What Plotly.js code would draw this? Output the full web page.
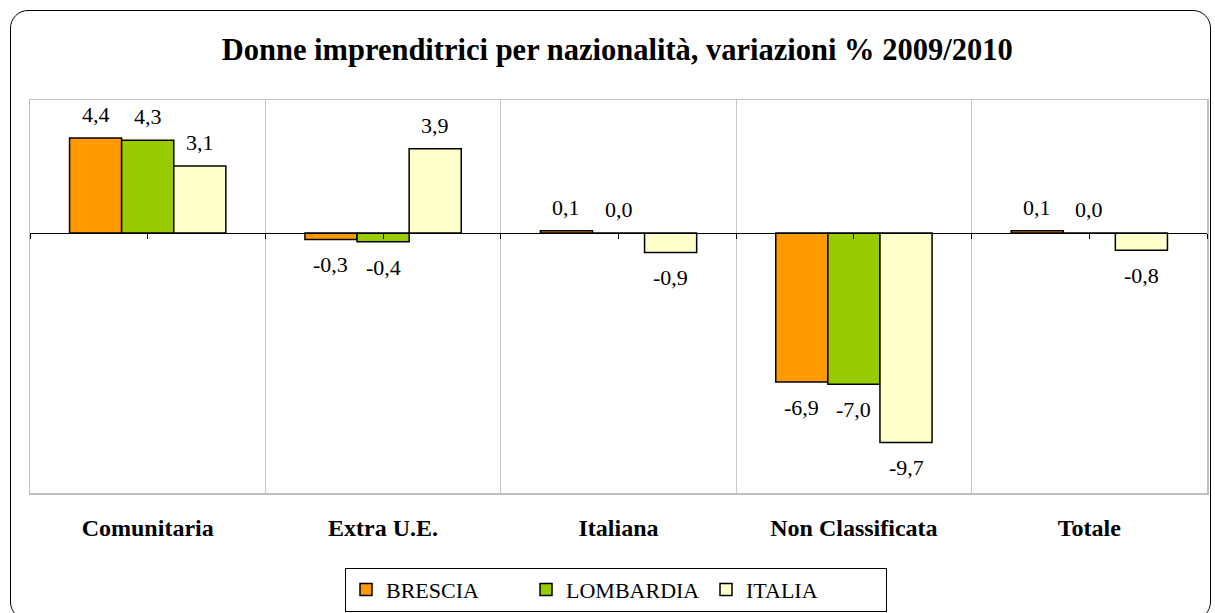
<!DOCTYPE html>
<html>
<head>
<meta charset="utf-8">
<script src="https://cdn.plot.ly/plotly-3.0.1.min.js"></script>
<style>
  html, body { margin: 0; padding: 0; background: #fff; }
  #wrap { position: relative; width: 1215px; height: 613px; overflow: hidden; }
  #chart { width: 1215px; height: 613px; }
  #frame { position: absolute; left: 10px; top: 10px; width: 1201px; height: 610px;
           border: 1.5px solid #000; border-radius: 18px; pointer-events: none; box-sizing: border-box; }
</style>
</head>
<body>
<div id="wrap">
  <div id="chart"></div>
  <div id="frame"></div>
</div>
<script>
const categories = ['Comunitaria', 'Extra U.E.', 'Italiana', 'Non Classificata', 'Totale'];
const brescia   = [4.4, -0.3, 0.1, -6.9, 0.1];
const lombardia = [4.3, -0.4, 0.0, -7.0, 0.0];
const italia    = [3.1, 3.9, -0.9, -9.7, -0.8];
const seriesNames = ['BRESCIA', 'LOMBARDIA', 'ITALIA'];
const seriesColors = ['#FF9900', '#99CC00', '#FFFFCC'];

const fmt = v => v.toFixed(1).replace('.', ',');
const serif = 'Liberation Serif';

const W = 1215, H = 613;
const margin = { l: 30, r: 8, t: 100, b: 120 };
const bargap = 0.336;
const series = [brescia, lombardia, italia];

const traces = series.map((vals, i) => ({
  type: 'bar',
  name: seriesNames[i],
  x: categories,
  y: vals,
  marker: { color: seriesColors[i], line: { color: '#000', width: 1.5 } },
  hoverinfo: 'x+y'
}));

// helper trace for the zero-line tick axis
traces.push({
  type: 'scatter', mode: 'markers', x: [0], y: [null],
  xaxis: 'x2', yaxis: 'y', showlegend: false, hoverinfo: 'skip'
});

// data labels placed at bar ends (offset by bar slot width within the group)
const plotW = W - margin.l - margin.r;
const barW = plotW / categories.length * (1 - bargap) / series.length;
const annotations = [];
series.forEach((vals, i) => {
  vals.forEach((v, j) => {
    annotations.push({
      x: categories[j], y: v, xref: 'x', yref: 'y',
      text: fmt(v), showarrow: false,
      xshift: (i - (series.length - 1) / 2) * barW,
      yanchor: v >= 0 ? 'bottom' : 'top',
      yshift: v >= 0 ? 9 : -11,
      font: { family: serif, size: 22, color: '#000' }
    });
  });
});

const yMin = -12.04, yMax = 6.16;

const layout = {
  width: W, height: H,
  font: { family: serif, color: '#000' },
  paper_bgcolor: '#fff', plot_bgcolor: '#fff',
  margin: margin,
  title: {
    text: 'Donne imprenditrici per nazionalità, variazioni % 2009/2010',
    font: { family: serif, size: 30.5, color: '#000', weight: 'bold' },
    x: 0.508, xanchor: 'center', y: 0.92, yanchor: 'middle'
  },
  barmode: 'group',
  bargap: bargap,
  bargroupgap: 0,
  showlegend: true,
  legend: {
    orientation: 'h',
    xref: 'container', yref: 'container',
    x: 0.507, xanchor: 'center', y: 0.074, yanchor: 'top',
    bordercolor: '#000', borderwidth: 1, bgcolor: '#fff',
    font: { family: serif, size: 22, color: '#000' },
    entrywidth: 135,
    traceorder: 'normal'
  },
  annotations: annotations,
  xaxis: {
    type: 'category',
    tickson: 'boundaries',
    showgrid: true, gridcolor: '#c8c8c8', gridwidth: 1,
    ticks: '', showline: true, mirror: true, linecolor: '#c0c0c0', linewidth: 1.5,
    tickfont: { family: serif, size: 24, color: '#000', weight: 'bold' },
    ticklabelstandoff: 13,
    zeroline: false, fixedrange: true
  },
  xaxis2: {
    type: 'linear', overlaying: 'x', anchor: 'free',
    position: (0 - yMin) / (yMax - yMin),
    range: [-0.5, 4.5], tick0: -0.5, dtick: 0.5,
    ticks: 'outside', ticklen: 5, tickcolor: '#000', tickwidth: 1,
    showticklabels: false, showgrid: false, zeroline: false,
    showline: true, linecolor: '#000', linewidth: 1, fixedrange: true
  },
  yaxis: {
    range: [yMin, yMax],
    showticklabels: false, ticks: '', showgrid: false,
    zeroline: false,
    showline: true, mirror: true, linecolor: '#c0c0c0', linewidth: 1.5,
    fixedrange: true
  }
};

Plotly.newPlot('chart', traces, layout, { displayModeBar: false, staticPlot: true });
</script>
</body>
</html>
